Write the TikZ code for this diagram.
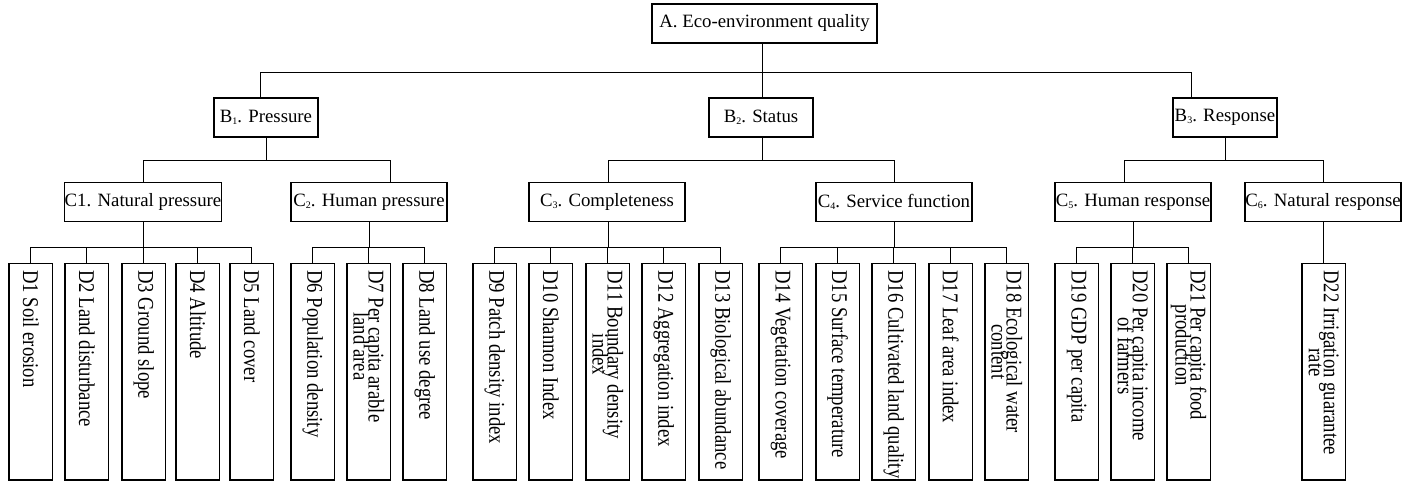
\documentclass[tikz,border=0pt]{standalone}
\usepackage{fontspec}
\setmainfont{Liberation Serif}
\newcommand{\sbs}[1]{\raisebox{-2pt}{\fontsize{10}{10}\selectfont #1}}
\newcommand{\bfnt}{\fontsize{18.8}{21}\selectfont}
\newcommand{\dfnt}{\fontsize{22.5}{15}\selectfont\lineskiplimit=-100pt\lineskip=0pt\relax}
\begin{document}
\begin{tikzpicture}[x=1pt,y=-1pt,
  box/.style={draw, line width=1.2pt, inner sep=0pt, font=\bfnt},
  abox/.style={box, minimum width=225pt, minimum height=39pt},
  bbox/.style={box, minimum width=104pt, minimum height=39pt},
  cbox/.style={box, minimum width=156pt, minimum height=38.5pt},
  dbox/.style={draw, line width=1.2pt, minimum width=43.5pt, minimum height=216.7pt, inner sep=0pt},
  dlabel/.style={font=\dfnt, inner sep=0pt, align=center, rotate=-90, xscale=0.83, anchor=west},
  link/.style={line width=1pt}]
\path[fill=white] (0,0) rectangle (1415,484);
\useasboundingbox (0,0) rectangle (1415,484);

% level A and B
\node[abox] (A) at (764.5,23.5) {A. Eco-environment quality};
\node[bbox] (B1) at (266,117.5) {B\sbs{1}. Pressure};
\node[bbox] (B2) at (761,117.5) {B\sbs{2}. Status};
\node[bbox] (B3) at (1225,117.5) {B\sbs{3}. Response};

% level C
\node[cbox] (C1) at (143,202) {C1. Natural pressure};
\node[cbox] (C2) at (369,202) {C\sbs{2}. Human pressure};
\node[cbox] (C3) at (607,202) {C\sbs{3}. Completeness};
\node[cbox] (C4) at (894,202) {C\sbs{4}. Service function};
\node[cbox] (C5) at (1133,202) {C\sbs{5}. Human response};
\node[cbox] (C6) at (1323,202) {C\sbs{6}. Natural response};

% level D boxes
\foreach \n/\x in {D1/30.75,D2/86.75,D3/143.75,D4/197.75,D5/251.75,D6/312.75,D7/368.75,D8/424.75,
  D9/494.75,D10/550.75,D11/607.75,D12/663.75,D13/720.75,D14/780.75,D15/837.75,D16/893.75,
  D17/950.75,D18/1006.75,D19/1076.75,D20/1132.75,D21/1188.75,D22/1323.75}
  \node[dbox] (\n) at (\x,371.65) {};

% level D labels
\node[dlabel] (D1t) at ([yshift=-7.5pt]D1.north) {D1 Soil erosion};
\node[dlabel] (D2t) at ([yshift=-7.5pt]D2.north) {D2 Land disturbance};
\node[dlabel] (D3t) at ([yshift=-7.5pt]D3.north) {D3 Ground slope};
\node[dlabel] (D4t) at ([yshift=-7.5pt]D4.north) {D4 Altitude};
\node[dlabel] (D5t) at ([yshift=-7.5pt]D5.north) {D5 Land cover};
\node[dlabel] (D6t) at ([yshift=-7.5pt]D6.north) {D6 Population density};
\node[dlabel] (D7t) at ([yshift=-7.5pt]D7.north) {D7 Per capita arable\\land area};
\node[dlabel] (D8t) at ([yshift=-7.5pt]D8.north) {D8 Land use degree};
\node[dlabel] (D9t) at ([yshift=-7.5pt]D9.north) {D9 Patch density index};
\node[dlabel] (D10t) at ([yshift=-7.5pt]D10.north) {D10 Shannon Index};
\node[dlabel] (D11t) at ([yshift=-7.5pt]D11.north) {D11 Boundary density\\index};
\node[dlabel] (D12t) at ([yshift=-7.5pt]D12.north) {D12 Aggregation index};
\node[dlabel] (D13t) at ([yshift=-7.5pt]D13.north) {D13 Biological abundance};
\node[dlabel] (D14t) at ([yshift=-7.5pt]D14.north) {D14 Vegetation coverage};
\node[dlabel] (D15t) at ([yshift=-7.5pt]D15.north) {D15 Surface temperature};
\node[dlabel] (D16t) at ([yshift=-7.5pt]D16.north) {D16 Cultivated land quality};
\node[dlabel] (D17t) at ([yshift=-7.5pt]D17.north) {D17 Leaf area index};
\node[dlabel] (D18t) at ([yshift=-7.5pt]D18.north) {D18 Ecological water\\content};
\node[dlabel] (D19t) at ([yshift=-7.5pt]D19.north) {D19 GDP per capita};
\node[dlabel] (D20t) at ([yshift=-7.5pt]D20.north) {D20 Per capita income\\of farmers};
\node[dlabel] (D21t) at ([yshift=-7.5pt]D21.north) {D21 Per capita food\\production};
\node[dlabel] (D22t) at ([yshift=-7.5pt]D22.north) {D22 Irrigation guarantee\\rate};

% connectors A -> B
\coordinate (ab) at (762,73);
\draw[link] (A.south -| ab) -- (ab);
\draw[link] ([xshift=-6pt]B1.north) |- ([xshift=-34pt]B3.north |- ab) -- ([xshift=-34pt]B3.north);
\draw[link] (ab) -- (B2.north -| ab);

% connectors B -> C
\coordinate (b1b) at (266,160);
\draw[link] (B1.south) -- (b1b);
\draw[link] (C1.north) |- ([xshift=21pt]C2.north |- b1b) -- ([xshift=21pt]C2.north);
\coordinate (b2b) at (762,160);
\draw[link] (B2.south -| b2b) -- (b2b);
\draw[link] ([xshift=1pt]C3.north) |- (C4.north |- b2b) -- (C4.north);
\coordinate (b3b) at (1225,160);
\draw[link] (B3.south) -- (b3b);
\draw[link] ([xshift=-9pt]C5.north) |- (C6.north |- b3b) -- (C6.north);

% connectors C -> D
\coordinate (c1b) at (143,247);
\draw[link] (C1.south) -- (c1b);
\draw[link] (D1.north |- c1b) -- (D5.north |- c1b);
\foreach \n in {D1,D2,D3,D4,D5} \draw[link] (\n.north) -- (\n.north |- c1b);
\coordinate (c2b) at (369,247);
\draw[link] (C2.south) -- (c2b);
\draw[link] (D6.north |- c2b) -- (D8.north |- c2b);
\foreach \n in {D6,D7,D8} \draw[link] (\n.north) -- (\n.north |- c2b);
\coordinate (c3b) at (608,247);
\draw[link] (C3.south -| c3b) -- (c3b);
\draw[link] (D9.north |- c3b) -- (D13.north |- c3b);
\foreach \n in {D9,D10,D11,D12,D13} \draw[link] (\n.north) -- (\n.north |- c3b);
\coordinate (c4b) at (894,247);
\draw[link] (C4.south) -- (c4b);
\draw[link] (D14.north |- c4b) -- (D18.north |- c4b);
\foreach \n in {D14,D15,D16,D17,D18} \draw[link] (\n.north) -- (\n.north |- c4b);
\coordinate (c5b) at (1133,247);
\draw[link] (C5.south) -- (c5b);
\draw[link] (D19.north |- c5b) -- (D21.north |- c5b);
\foreach \n in {D19,D20,D21} \draw[link] (\n.north) -- (\n.north |- c5b);
\draw[link] (C6.south) -- (C6.south |- D22.north);
\end{tikzpicture}
\end{document}
